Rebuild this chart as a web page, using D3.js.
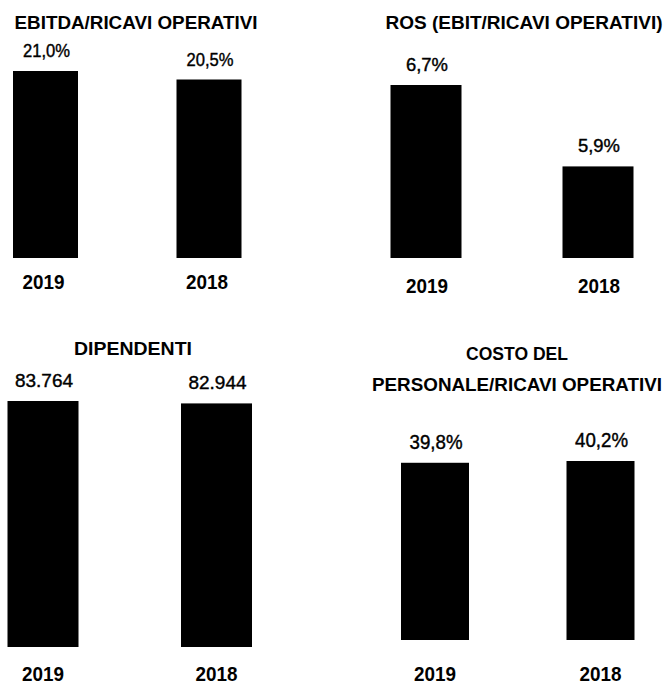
<!DOCTYPE html>
<html>
<head>
<meta charset="utf-8">
<script src="https://cdn.jsdelivr.net/npm/d3@7"></script>
<style>
  html, body { margin: 0; padding: 0; background: #fff; }
  svg { display: block; }
</style>
</head>
<body>
<div id="chart-container"></div>
<script>
// Data
const years = ["2019", "2018"];
const ebitdaPct = [21.0, 20.5];
const rosPct = [6.7, 5.9];
const dipendenti = [83764, 82944];
const costoPersonalePct = [39.8, 40.2];

const titleEbitda = ["EBITDA/RICAVI  OPERATIVI"];
const titleRos = ["ROS (EBIT/RICAVI OPERATIVI)"];
const titleDipendenti = ["DIPENDENTI"];
const titleCosto = ["COSTO DEL", "PERSONALE/RICAVI OPERATIVI"];

// Italian number formatting
const it = d3.formatLocale({ decimal: ",", thousands: ".", grouping: [3], currency: ["€", ""] });
const fmtPct = v => it.format(".1f")(v) + "%";
const fmtInt = it.format(",d");

// Layout
const WIDTH = 665;
const HEIGHT = 684;
const FONT = "'Liberation Sans', Arial, sans-serif";

const panels = [
  {
    values: ebitdaPct, fmt: fmtPct, title: titleEbitda,
    centers: [45.5, 209], barWidth: 65, base: 258, top: 71, domainMin: 10,
    titleX: 136, titleY: [29], titleLen: [243],
    valueSize: 18, valueLen: 47, yearY: 289, yearDx: -2
  },
  {
    values: rosPct, fmt: fmtPct, title: titleRos,
    centers: [426, 598], barWidth: 71, base: 258, top: 85, domainMin: 5,
    titleX: 524, titleY: [29], titleLen: [277],
    valueSize: 18, valueLen: 42, yearY: 293, yearDx: 1
  },
  {
    values: dipendenti, fmt: fmtInt, title: titleDipendenti,
    centers: [43, 216.5], barWidth: 71, base: 647, top: 401, domainMin: 0,
    titleX: 133, titleY: [355], titleLen: [118],
    valueSize: 19, valueLen: 58, yearY: 681, yearDx: 0
  },
  {
    values: costoPersonalePct, fmt: fmtPct, title: titleCosto,
    centers: [435, 600.5], barWidth: 68, base: 640, top: 461, domainMin: 0,
    titleX: 517, titleY: [360, 391], titleLen: [102, 290],
    valueSize: 19.5, valueLen: 53, yearY: 681, yearDx: 0
  }
];

const svg = d3.select("#chart-container")
  .append("svg")
  .attr("width", WIDTH)
  .attr("height", HEIGHT)
  .style("background", "#fff");

panels.forEach(p => {
  const g = svg.append("g");

  const x = d3.scalePoint()
    .domain(years)
    .range(p.centers);

  const y = d3.scaleLinear()
    .domain([p.domainMin, d3.max(p.values)])
    .range([p.base, p.top]);

  const rows = years.map((yr, i) => ({ year: yr, value: p.values[i] }));

  // title
  p.title.forEach((line, i) => {
    g.append("text")
      .attr("x", p.titleX)
      .attr("y", p.titleY[i])
      .attr("text-anchor", "middle")
      .attr("font-family", FONT)
      .attr("font-weight", "bold")
      .attr("font-size", 18.5)
      .attr("textLength", p.titleLen[i])
      .attr("lengthAdjust", "spacingAndGlyphs")
      .text(line);
  });

  // bars
  g.selectAll("rect")
    .data(rows)
    .join("rect")
    .attr("x", d => x(d.year) - p.barWidth / 2)
    .attr("y", d => y(d.value))
    .attr("width", p.barWidth)
    .attr("height", d => p.base - y(d.value))
    .attr("fill", "#000");

  // value labels
  g.selectAll("text.value")
    .data(rows)
    .join("text")
    .attr("class", "value")
    .attr("x", d => x(d.year) + 1)
    .attr("y", d => y(d.value) - 14)
    .attr("text-anchor", "middle")
    .attr("font-family", FONT)
    .attr("font-size", p.valueSize)
    .attr("stroke", "#000")
    .attr("stroke-width", 0.4)
    .attr("textLength", p.valueLen)
    .attr("lengthAdjust", "spacingAndGlyphs")
    .attr("fill", "#000")
    .text(d => p.fmt(d.value));

  // year labels
  g.selectAll("text.year")
    .data(rows)
    .join("text")
    .attr("class", "year")
    .attr("x", d => x(d.year) + p.yearDx)
    .attr("y", p.yearY)
    .attr("text-anchor", "middle")
    .attr("font-family", FONT)
    .attr("font-weight", "bold")
    .attr("font-size", 20)
    .attr("textLength", 42)
    .attr("lengthAdjust", "spacingAndGlyphs")
    .attr("fill", "#000")
    .text(d => d.year);
});
</script>
</body>
</html>
